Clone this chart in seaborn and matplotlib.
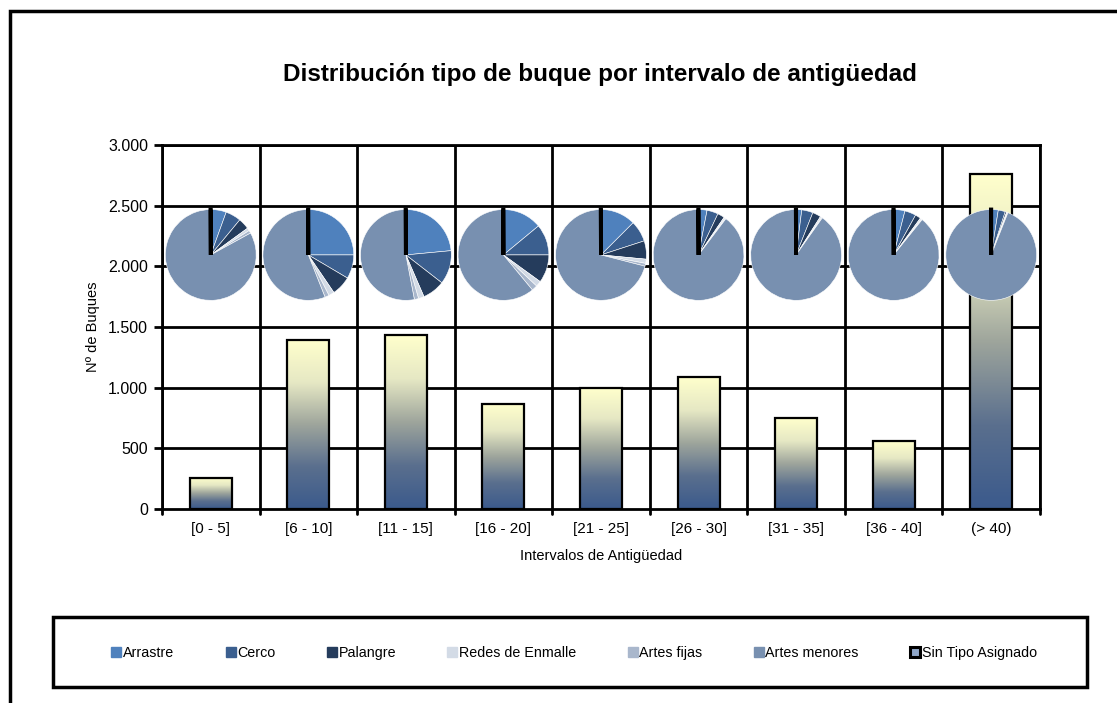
import numpy as np
import pandas as pd
import matplotlib.pyplot as plt
import seaborn as sns
from matplotlib.colors import LinearSegmentedColormap
from matplotlib.patches import Rectangle
from matplotlib.lines import Line2D

# data
intervalos = ['[0 - 5]', '[6 - 10]', '[11 - 15]', '[16 - 20]', '[21 - 25]',
              '[26 - 30]', '[31 - 35]', '[36 - 40]', '(> 40)']
buques = [258, 1390, 1432, 864, 995, 1085, 748, 558, 2760]

tipos = ['Arrastre', 'Cerco', 'Palangre', 'Redes de Enmalle', 'Artes fijas',
         'Artes menores', 'Sin Tipo Asignado']
# share of each vessel type (%) per interval, clockwise from 12 o'clock
arrastre = [5.5, 25.0, 23.5, 14.0, 12.5, 3.0, 2.0, 4.0, 2.5]
cerco = [5.5, 8.5, 12.0, 11.0, 7.5, 4.0, 4.0, 4.0, 2.5]
palangre = [4.0, 7.0, 8.0, 10.0, 6.5, 2.5, 3.0, 2.0, 0.5]
redes = [1.0, 2.0, 2.0, 2.0, 1.5, 0.5, 0.5, 0.5, 0.3]
fijas = [1.0, 1.5, 1.5, 2.0, 1.0, 0.3, 0.3, 0.3, 0.2]
sin_tipo = [0.1] * 9

yticks = [0, 500, 1000, 1500, 2000, 2500, 3000]
ytick_labels = ['0', '500', '1.000', '1.500', '2.000', '2.500', '3.000']

colores = ['#4f81bd', '#3b5f8f', '#253c5c', '#d3dbe6', '#a9b7cc', '#7890b0', '#000000']

df = pd.DataFrame({'intervalo': intervalos, 'buques': buques})

sns.set_style('white')
plt.rcParams['font.family'] = ['Liberation Sans', 'DejaVu Sans']
plt.rcParams['text.color'] = 'black'
plt.rcParams['axes.labelcolor'] = 'black'
plt.rcParams['xtick.color'] = 'black'
plt.rcParams['ytick.color'] = 'black'

fig = plt.figure(figsize=(11.17, 7.03), dpi=100)
ax = fig.add_axes([162 / 1117, 1 - 509 / 703, 878 / 1117, 364 / 703])

sns.barplot(data=df, x='intervalo', y='buques', ax=ax, width=0.43,
            edgecolor='black', linewidth=1.6, zorder=3)

# gradient fill inside every bar: dark blue at the base, pale yellow on top
grad = LinearSegmentedColormap.from_list('g', ['#3b5a8c', '#5a6f8e', '#9ea59c', '#e6e8c4', '#ffffcc'])
for p in ax.patches:
    p.set_facecolor('none')
    x0, y0 = p.get_x(), p.get_y()
    w, h = p.get_width(), p.get_height()
    img = ax.imshow(np.linspace(0, 1, 256).reshape(-1, 1), cmap=grad, origin='lower',
                    extent=[x0, x0 + w, y0, y0 + h], aspect='auto', zorder=2)
    img.set_clip_path(p)

ax.set_xlim(-0.5, len(intervalos) - 0.5)
ax.set_ylim(0, 3000)
ax.set_yticks(yticks)
ax.set_yticklabels(ytick_labels, fontsize=11.5)
ax.tick_params(axis='x', labelsize=11, length=0, pad=9)
ax.tick_params(axis='y', direction='out', length=6, width=2, left=True, pad=4)

# grid: horizontal at every 500, vertical between categories
for y in yticks[1:]:
    ax.axhline(y, color='black', lw=2, zorder=1)
for i in range(len(intervalos) + 1):
    ax.axvline(i - 0.5, color='black', lw=2, zorder=1)
    ax.plot([i - 0.5, i - 0.5], [0, -40], color='black', lw=2, clip_on=False)
for s in ax.spines.values():
    s.set_linewidth(2)
    s.set_color('black')

ax.set_xlabel('Intervalos de Antigüedad', fontsize=10.5, labelpad=10)
ax.set_ylabel('Nº de Buques', fontsize=10.5, labelpad=6)

# pies on top of every interval
for i in range(len(intervalos)):
    vals = [arrastre[i], cerco[i], palangre[i], redes[i], fijas[i]]
    menores = 100 - sum(vals) - sin_tipo[i]
    vals = vals + [menores, sin_tipo[i]]
    pax = ax.inset_axes([i - 0.5, 2094 - 378, 1.0, 756], transform=ax.transData, zorder=5)
    wedges, _ = pax.pie(vals, colors=colores, startangle=90, counterclock=False,
                        wedgeprops={'edgecolor': 'white', 'linewidth': 0.4})
    wedges[-1].set_edgecolor('black')
    wedges[-1].set_linewidth(2.8)
    pax.set_aspect('equal')
    pax.set_xlim(-1.01, 1.01)
    pax.set_ylim(-1.01, 1.01)
    pax.axis('off')

fig.text(600 / 1117, 1 - 75 / 703, 'Distribución tipo de buque por intervalo de antigüedad',
         ha='center', va='center', fontsize=17.5, fontweight='bold')

handles = [Line2D([], [], marker='s', ls='none', markersize=7.2, markerfacecolor=c,
                  markeredgecolor=c) for c in colores[:-1]]
handles.append(Line2D([], [], marker='s', ls='none', markersize=7.2, markerfacecolor='#8fa6c8',
                      markeredgecolor='black', markeredgewidth=2.2))
leg = fig.legend(handles, tipos, loc='center', ncol=7, fontsize=10.3,
                 bbox_to_anchor=(574 / 1117, 1 - 653 / 703),
                 handletextpad=0.1, handlelength=0.75, columnspacing=3.55,
                 frameon=False, borderaxespad=0)

# legend frame
fig.patches.append(Rectangle((53 / 1117, 1 - 687 / 703), 1034 / 1117, 70 / 703,
                             transform=fig.transFigure, fill=False, edgecolor='black', lw=2.5))

# outer chart border (right and bottom edges fall outside the image)
fig.patches.append(Rectangle((10 / 1117, -0.1), 1.2, 1 - 11 / 703 + 0.1, transform=fig.transFigure,
                             fill=False, edgecolor='black', lw=2.5))

plt.savefig('out.png', dpi=100)
